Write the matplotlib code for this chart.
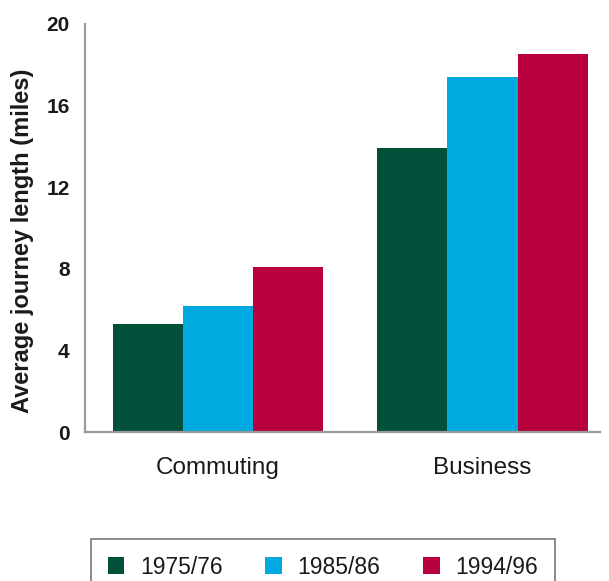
import numpy as np
import matplotlib.pyplot as plt

plt.rcParams['font.family'] = ['Liberation Sans', 'DejaVu Sans']

# Average journey length by purpose and survey period
purposes = ['Commuting', 'Business']
periods = ['1975/76', '1985/86', '1994/96']
miles_1975 = [5.3, 13.9]
miles_1985 = [6.2, 17.4]
miles_1994 = [8.1, 18.5]
colores = ['#00503a', '#00a9df', '#b8003e']

fig = plt.figure(figsize=(6.09, 5.81), dpi=100)
ax = fig.add_axes([0.1396, 0.256, 0.845, 0.703])

x = np.arange(len(purposes))
ancho = 0.265
series = [miles_1975, miles_1985, miles_1994]
for i, (valores, etiqueta, color) in enumerate(zip(series, periods, colores)):
    ax.bar(x + (i - 1) * ancho, valores, width=ancho, color=color, label=etiqueta)

ax.set_ylim(0, 20)
ax.set_xlim(-0.5025, 1.4425)
ax.set_yticks([0, 4, 8, 12, 16, 20])
ax.set_xticks(x)
ax.set_xticklabels(purposes)
ax.tick_params(axis='both', length=0, colors='#1a1a1a')
ax.tick_params(axis='y', pad=11, labelsize=15)
ax.tick_params(axis='x', pad=18, labelsize=17.5)
for lab in ax.get_yticklabels():
    lab.set_fontweight('bold')

for lado in ['top', 'right']:
    ax.spines[lado].set_visible(False)
for lado in ['left', 'bottom']:
    ax.spines[lado].set_color('#9a9a9a')
    ax.spines[lado].set_linewidth(1.6)

ax.set_ylabel('Average journey length (miles)', fontsize=17, fontweight='bold',
              color='#1a1a1a', labelpad=9)
ax.yaxis.label.set_y(0.468)

leg = fig.legend(loc='upper left', bbox_to_anchor=(91 / 609, 1 - 539 / 581),
                 ncol=3, fontsize=16.5, frameon=True, fancybox=False,
                 handlelength=0.74, handleheight=0.74, columnspacing=1.85,
                 handletextpad=0.68, borderpad=0.72, borderaxespad=0)
leg.get_frame().set_edgecolor('#555555')
leg.get_frame().set_linewidth(1.2)
for t in leg.get_texts():
    t.set_color('#1a1a1a')

fig.savefig('out.png', dpi=100)
